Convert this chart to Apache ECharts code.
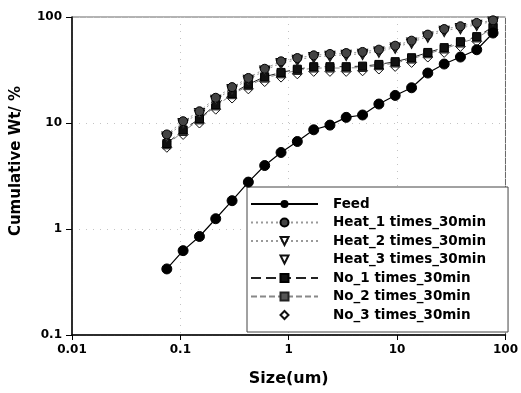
<!DOCTYPE html>
<html>
<head>
<meta charset="utf-8">
<script src="https://cdn.jsdelivr.net/npm/echarts@6/dist/echarts.min.js"></script>
<style>html,body{margin:0;padding:0;background:#fff;}#c{width:521px;height:393px;}</style>
</head>
<body>
<div id="c"></div>
<script>
var sizes = [0.075, 0.106, 0.15, 0.212, 0.3, 0.424, 0.6, 0.849, 1.2, 1.7, 2.4, 3.39, 4.8, 6.79, 9.6, 13.6, 19.2, 27.2, 38.4, 54.3, 76.8];
var feed  = [0.42, 0.625, 0.85, 1.25, 1.85, 2.77, 3.97, 5.27, 6.69, 8.63, 9.55, 11.3, 11.9, 15.1, 18.2, 21.5, 29.6, 36.0, 41.9, 49.1, 70.6];
var heat1 = [7.8, 10.4, 12.9, 17.3, 21.8, 26.6, 32.5, 38.2, 41.0, 43.5, 44.8, 45.7, 46.8, 49.2, 53.6, 59.8, 68.2, 77.0, 81.8, 87.9, 93.0];
var heat2 = [7.46, 9.98, 12.4, 16.6, 20.9, 25.6, 31.3, 36.8, 39.5, 41.9, 43.1, 44.0, 45.0, 47.3, 51.6, 57.5, 65.6, 74.2, 78.7, 84.6, 90.9];
var heat3 = [7.2, 9.7, 12.0, 16.1, 20.3, 24.8, 30.4, 35.7, 38.3, 40.6, 41.8, 42.7, 43.6, 45.9, 50.0, 55.8, 63.6, 72.0, 76.3, 82.0, 88.5];
var no1   = [6.4, 8.6, 11.0, 14.9, 19.0, 23.2, 27.3, 30.0, 32.2, 34.0, 34.0, 34.0, 34.4, 35.7, 37.9, 41.3, 46.3, 51.4, 58.5, 65.3, 80.5];
var no2   = [6.23, 8.31, 10.7, 14.5, 18.5, 22.5, 26.5, 29.1, 31.3, 33.0, 33.0, 33.0, 33.4, 34.7, 36.8, 40.1, 45.0, 49.9, 56.8, 63.4, 78.7];
var no3   = [5.9, 7.8, 10.0, 13.5, 17.2, 21.0, 24.6, 27.1, 29.1, 30.7, 30.7, 30.7, 31.1, 32.3, 34.2, 37.3, 41.9, 46.4, 52.8, 59.0, 75.5];
var xTicks = ['0.01', '0.1', '1', '10', '100'];
var yTicks = ['0.1', '1', '10', '100'];
var names = ['Feed', 'Heat_1 times_30min', 'Heat_2 times_30min', 'Heat_3 times_30min', 'No_1 times_30min', 'No_2 times_30min', 'No_3 times_30min'];

function pairs(v) { return sizes.map(function (s, i) { return [s, v[i]]; }); }
var FONT = 'DejaVu Sans';
var triDown = 'path://M0,0 L10,0 L5,9 Z';

var chart = echarts.init(document.getElementById('c'), null, {renderer: 'canvas'});
function fmt(list) {
  return function (v) {
    for (var i = 0; i < list.length; i++) { if (Math.abs(Math.log10(v) - Math.log10(parseFloat(list[i]))) < 1e-6) return list[i]; }
    return '';
  };
}
var option = {
  animation: false,
  backgroundColor: '#fff',
  textStyle: {fontFamily: FONT},
  grid: {left: 72, right: 14, top: 17, bottom: 58, show: true, borderColor: '#666', borderWidth: 1, backgroundColor: 'transparent'},
  xAxis: {
    type: 'log', logBase: 10, min: 0.01, max: 100,
    name: 'Size(um)', nameLocation: 'middle', nameGap: 36,
    nameTextStyle: {fontFamily: FONT, fontWeight: 'bold', fontSize: 16, color: '#000'},
    axisLine: {lineStyle: {color: '#000', width: 1.5}},
    axisTick: {show: true, length: 5, lineStyle: {color: '#000'}},
    axisLabel: {fontFamily: FONT, fontWeight: 'bold', fontSize: 12, color: '#000', margin: 9, formatter: fmt(xTicks)},
    splitLine: {show: true, lineStyle: {color: '#c4c4c4', type: [1, 6], width: 1}},
    minorTick: {show: false}
  },
  yAxis: {
    type: 'log', logBase: 10, min: 0.1, max: 100,
    axisLine: {lineStyle: {color: '#000', width: 1.5}},
    axisTick: {show: true, length: 6, lineStyle: {color: '#000'}},
    axisLabel: {fontFamily: FONT, fontWeight: 'bold', fontSize: 12, color: '#000', margin: 10, formatter: fmt(yTicks)},
    splitLine: {show: true, lineStyle: {color: '#c4c4c4', type: [1, 6], width: 1}}
  },
  legend: {
    orient: 'vertical', left: 247, top: 187,
    data: names,
    itemWidth: 67, itemHeight: 10, itemGap: 4.5,
    padding: [10, 22, 10, 3],
    backgroundColor: '#fff', borderColor: '#444', borderWidth: 1,
    textStyle: {fontFamily: FONT, fontWeight: 'bold', fontSize: 13.5, color: '#000', padding: [0, 0, 0, 10]}
  },
  graphic: [{
    type: 'text', x: 16, y: 161, rotation: Math.PI / 2,
    style: {text: 'Cumulative Wt/ %', font: 'bold 15px "DejaVu Sans"', fill: '#000', align: 'center', verticalAlign: 'middle'}
  }],
  series: [
    {name: names[6], type: 'line', data: pairs(no3), symbol: 'diamond', symbolSize: 10,
      itemStyle: {color: '#fff', borderColor: '#111', borderWidth: 1}, lineStyle: {width: 0, color: '#fff', opacity: 0}, z: 2},
    {name: names[5], type: 'line', data: pairs(no2), symbol: 'rect', symbolSize: 8,
      itemStyle: {color: '#555', borderColor: '#222', borderWidth: 1}, lineStyle: {width: 1, color: '#888', type: [6, 3]}, z: 3},
    {name: names[4], type: 'line', data: pairs(no1), symbol: 'rect', symbolSize: 8,
      itemStyle: {color: '#111', borderColor: '#000', borderWidth: 1}, lineStyle: {width: 1, color: '#222', type: [10, 5]}, z: 4},
    {name: names[3], type: 'line', data: pairs(heat3), symbol: triDown, symbolSize: [10, 9],
      itemStyle: {color: '#fff', borderColor: '#111', borderWidth: 1}, lineStyle: {width: 0, opacity: 0}, z: 5},
    {name: names[2], type: 'line', data: pairs(heat2), symbol: triDown, symbolSize: [10, 9],
      itemStyle: {color: '#fff', borderColor: '#111', borderWidth: 1}, lineStyle: {width: 1, color: '#999', type: [2, 3]}, z: 6},
    {name: names[1], type: 'line', data: pairs(heat1), symbol: 'circle', symbolSize: 9,
      itemStyle: {color: '#444', borderColor: '#000', borderWidth: 1}, lineStyle: {width: 1, color: '#999', type: [2, 3]}, z: 7},
    {name: names[0], type: 'line', data: pairs(feed), symbol: 'circle', symbolSize: 10,
      itemStyle: {color: '#000', borderColor: '#000'}, lineStyle: {width: 1.2, color: '#000', type: 'solid'}, z: 8}
  ]
};
chart.setOption(option);
</script>
</body>
</html>
